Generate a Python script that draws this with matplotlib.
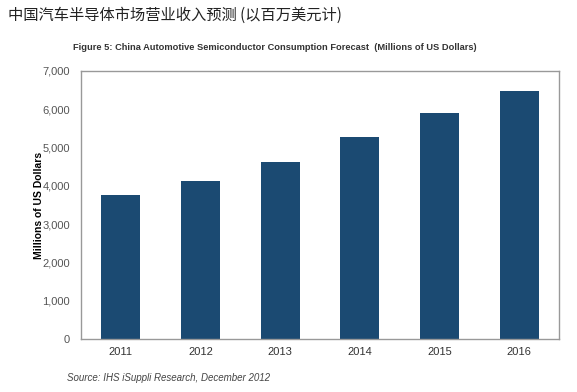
import matplotlib.pyplot as plt
from matplotlib.ticker import FuncFormatter

years = ["2011", "2012", "2013", "2014", "2015", "2016"]
revenue = [3760, 4125, 4630, 5265, 5890, 6475]

plt.rcParams['font.family'] = ['Liberation Sans', 'DejaVu Sans']

fig = plt.figure(figsize=(5.77, 3.92), dpi=100)
ax = fig.add_axes([81 / 577, 1 - 339 / 392, 478 / 577, 268 / 392])

ax.bar(range(len(years)), revenue, width=0.49, color="#1b4a72")
ax.set_xlim(-0.5, 5.5)
ax.set_ylim(0, 7000)
ax.set_yticks(range(0, 7001, 1000))
ax.yaxis.set_major_formatter(FuncFormatter(lambda v, p: f"{int(v):,}"))
ax.set_xticks(range(len(years)))
ax.set_xticklabels(years)
ax.tick_params(length=0, labelsize=8, colors="#333333", pad=6)
ax.tick_params(axis="y", colors="#555555", pad=8)
for s in ax.spines.values():
    s.set_color("#999999")
    s.set_linewidth(1.0)

ax.set_ylabel("Millions of US Dollars", fontsize=7.5, fontweight="bold")
ax.yaxis.set_label_coords(-0.078, 0.5)

fig.text(8 / 577, 1 - 15 / 392, "中国汽车半导体市场营业收入预测 (以百万美元计)",
         fontsize=11, va="center", ha="left", color="#222222",
         family=["Noto Sans CJK SC", "DejaVu Sans"])
fig.text(275 / 577, 1 - 47 / 392,
         "Figure 5: China Automotive Semiconductor Consumption Forecast  (Millions of US Dollars)",
         fontsize=6.7, fontweight="bold", ha="center", va="center", color="#333333")
fig.text(67 / 577, 1 - 378 / 392, "Source: IHS iSuppli Research, December 2012",
         fontsize=7, style="italic", ha="left", va="center", color="#444444")

fig.savefig("out.png", dpi=100)
